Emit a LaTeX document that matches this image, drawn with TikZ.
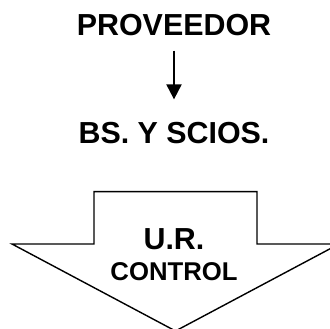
\documentclass[tikz,border=0pt]{standalone}
\usepackage{fontspec}
\setmainfont{Liberation Sans}
\usetikzlibrary{arrows.meta, positioning}

\begin{document}
\begin{tikzpicture}[x=1pt, y=-1pt, thick]
        % Define block styles
        \tikzstyle{title} = [font=\bfseries\fontsize{30.4}{36}\selectfont, inner sep=0pt, anchor=base]
        \tikzstyle{small} = [font=\bfseries\fontsize{25.7}{30}\selectfont, inner sep=0pt, anchor=base]
        \tikzstyle{line} = [draw, line width=2pt, -{Triangle[width=15pt, length=15pt]}, shorten <=14pt, shorten >=22pt]
        \tikzstyle{bigarrow} = [draw, line width=1.4pt, fill=white, line join=miter]

        \useasboundingbox (0,0) rectangle (330,329);

        % Define nodes
        \node [title] (prov) at (174,36) {PROVEEDOR};
        \node [title, below=107pt of prov.base, anchor=base] (bs) {BS. Y SCIOS.};

        % Big arrow with its text
        \draw [bigarrow] (94,191.7) -- (257,191.7) -- (257,244) -- (339,244) -- (175.5,331) -- (12,244) -- (94,244) -- cycle;
        \node [title] (ur) at (174,250) {U.R.};
        \node [small, below=30.7pt of ur.base, anchor=base] (ctrl) {CONTROL};

        % Connect nodes with paths
        \draw[line] (prov) -- (bs);

    \end{tikzpicture}
\end{document}
